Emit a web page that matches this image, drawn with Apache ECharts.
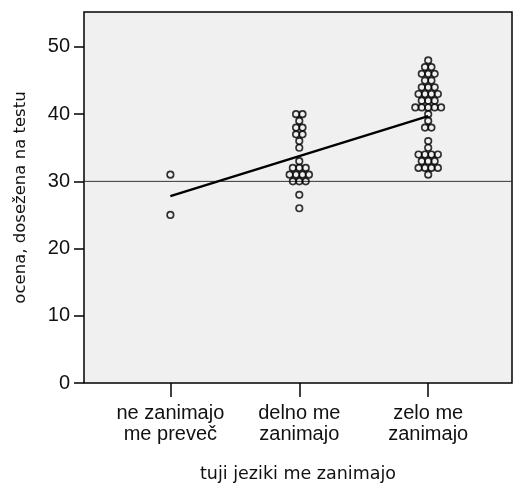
<!DOCTYPE html>
<html><head><meta charset="utf-8">
<script src="https://cdn.jsdelivr.net/npm/echarts@6/dist/echarts.min.js"></script>
<style>html,body{margin:0;padding:0;background:#fff}#c{width:513px;height:486px}</style>
</head><body><div id="c"></div>
<script>
const categories = ['ne zanimajo\nme preveč', 'delno me\nzanimajo', 'zelo me\nzanimajo'];
// value -> count of dots at that value, per group
const group1Values = [31, 25];
const group1Counts = [1, 1];
const group2Values = [40, 39, 38, 37, 36, 35, 33, 32, 31, 30, 28, 26];
const group2Counts = [2, 1, 2, 2, 1, 1, 1, 3, 4, 3, 1, 1];
const group3Values = [48, 47, 46, 45, 44, 43, 42, 41, 40, 39, 38, 36, 35, 34, 33, 32, 31];
const group3Counts = [1, 2, 3, 2, 3, 4, 3, 5, 1, 1, 2, 1, 1, 4, 3, 4, 1];
const fitLine = [27.8, 39.7];
const refLineValue = 30;
const yTicks = [0, 10, 20, 30, 40, 50];

const groups = [[group1Values, group1Counts], [group2Values, group2Counts], [group3Values, group3Counts]];
const step = 0.05;
const dots = [];
groups.forEach(([vals, cnts], gi) => {
  vals.forEach((v, k) => {
    const n = cnts[k];
    for (let i = 0; i < n; i++) dots.push([gi + 1 + (i - (n - 1) / 2) * step, v]);
  });
});

const chart = echarts.init(document.getElementById('c'));
chart.setOption({
  animation: false,
  grid: {left: 84, right: 1, top: 12, bottom: 103, containLabel: false, outerBoundsMode: 'none', show: true, backgroundColor: '#f0f0f0', borderColor: '#000', borderWidth: 1.5},
  xAxis: {
    type: 'value', min: 0.33, max: 3.65,
    name: 'tuji jeziki me zanimajo', nameLocation: 'middle', nameGap: 82,
    nameTextStyle: {fontFamily: 'DejaVu Sans', fontSize: 17.5, color: '#111'},
    axisLine: {show: false},
    splitLine: {show: false},
    axisTick: {show: true, customValues: [1, 2, 3], length: 14, lineStyle: {color: '#000', width: 1.5}},
    axisLabel: {customValues: [1, 2, 3], formatter: v => categories[Math.round(v) - 1], fontFamily: 'Liberation Sans', fontSize: 20, lineHeight: 21, color: '#111', margin: 20}
  },
  yAxis: {
    type: 'value', min: 0, max: 55.2, interval: 10,
    name: 'ocena, dosežena na testu', nameLocation: 'middle', nameGap: 55,
    nameTextStyle: {fontFamily: 'DejaVu Sans', fontSize: 16.5, color: '#111'},
    axisLine: {show: false},
    splitLine: {show: false},
    axisTick: {show: true, customValues: yTicks, length: 10, lineStyle: {color: '#000', width: 1.5}},
    axisLabel: {customValues: yTicks, fontFamily: 'Liberation Sans', fontSize: 20, color: '#111', margin: 14}
  },
  series: [
    {
      type: 'line', data: [[0.33, refLineValue], [3.65, refLineValue]], symbol: 'none',
      lineStyle: {color: '#333', width: 1}, silent: true, z: 1
    },
    {
      type: 'line', data: [[1, fitLine[0]], [3, fitLine[1]]], symbol: 'none',
      lineStyle: {color: '#000', width: 2.5}, z: 3
    },
    {
      type: 'scatter', data: dots, symbol: 'circle', symbolSize: 6.5,
      itemStyle: {color: 'rgba(255,255,255,0)', borderColor: '#000', borderWidth: 1.7}, z: 4
    }
  ]
});
</script></body></html>
